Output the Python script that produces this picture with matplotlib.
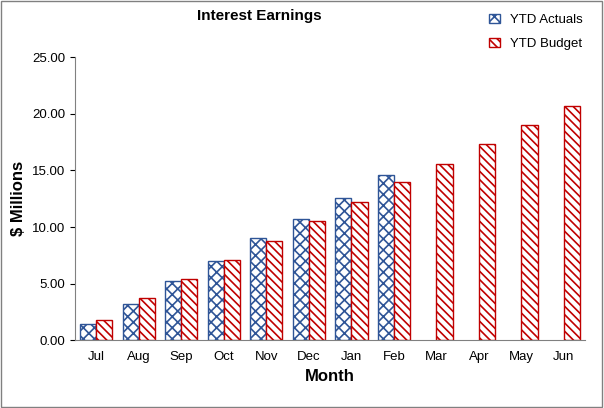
import matplotlib
matplotlib.use("Agg")
import matplotlib.pyplot as plt
import numpy as np

months = ["Jul", "Aug", "Sep", "Oct", "Nov", "Dec", "Jan", "Feb", "Mar", "Apr", "May", "Jun"]
ytd_actuals = [1.45, 3.2, 5.25, 7.0, 9.05, 10.7, 12.55, 14.55]
ytd_budget = [1.75, 3.7, 5.4, 7.05, 8.8, 10.5, 12.2, 14.0, 15.6, 17.3, 19.0, 20.7]

plt.rcParams["hatch.linewidth"] = 1.2
plt.rcParams["font.family"] = "Liberation Sans"
fig = plt.figure(figsize=(6.04, 4.08), dpi=100)
fig.patches.append(plt.Rectangle((0.002, 0.002), 0.995, 0.995, transform=fig.transFigure,
                                 fill=False, edgecolor="#808080", linewidth=1))
ax = fig.add_axes([0.124, 0.166, 0.845, 0.694])

x = np.arange(len(months))
w = 0.38
ax.bar(x[:len(ytd_actuals)] - w / 2, ytd_actuals, w, facecolor="white", edgecolor="#2F5597",
       hatch="xxx", linewidth=1, label="YTD Actuals")
ax.bar(x + w / 2, ytd_budget, w, facecolor="white", edgecolor="#C00000",
       hatch="\\\\\\\\", linewidth=1, label="YTD Budget")

ax.set_xlim(-0.5, len(months) - 0.5)
ax.set_ylim(0, 25)
ax.set_yticks(np.arange(0, 25.01, 5))
ax.set_yticklabels([f"{v:.2f}" for v in np.arange(0, 25.01, 5)], fontsize=9.5)
ax.set_xticks(x)
ax.set_xticklabels(months, fontsize=9.5)
ax.tick_params(axis="x", length=0, pad=8)
for s in ["top", "right"]:
    ax.spines[s].set_visible(False)
ax.spines["left"].set_color("#808080")
ax.spines["bottom"].set_color("#808080")
ax.set_xlabel("Month", fontsize=12, fontweight="bold")
ax.set_ylabel("$ Millions", fontsize=12, fontweight="bold")
fig.text(0.43, 0.962, "Interest Earnings", ha="center", va="center", fontsize=11, fontweight="bold")
fig.legend(loc="upper right", bbox_to_anchor=(0.985, 0.995), frameon=False, fontsize=9.5,
           labelspacing=0.9, handlelength=0.8)

fig.savefig("out.png", dpi=100)
